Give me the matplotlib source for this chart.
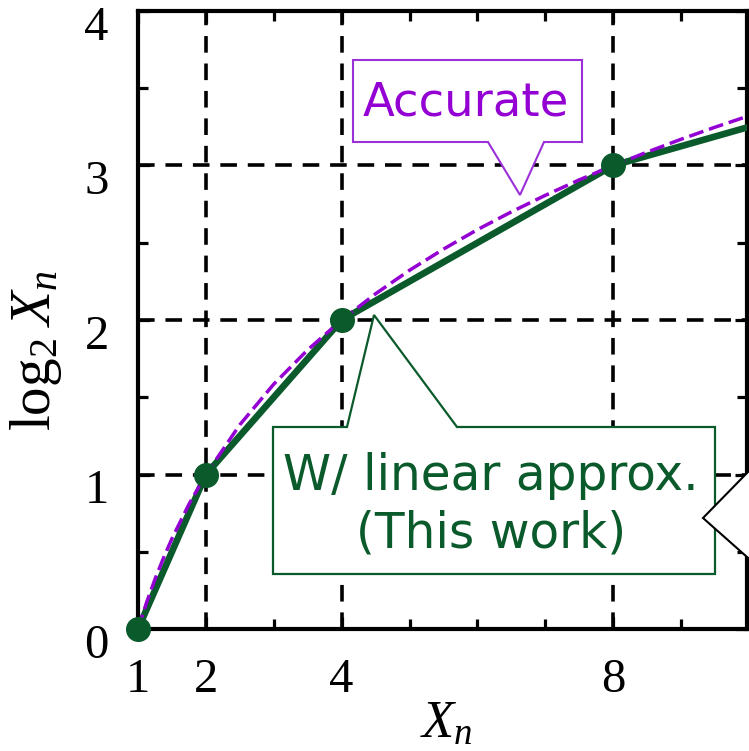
import matplotlib
matplotlib.use("Agg")
import matplotlib.pyplot as plt
from matplotlib.patches import Polygon
from matplotlib.ticker import MultipleLocator
from matplotlib.transforms import ScaledTranslation

# ---------------- data ----------------
acc_x = [1, 1.125, 1.25, 1.375, 1.5, 1.75, 2, 2.5, 3, 3.5, 4, 4.5, 5, 5.5, 6, 6.5, 7, 7.5, 8, 8.5, 9, 9.5, 10]
acc_y = [0.0, 0.170, 0.322, 0.459, 0.585, 0.807, 1.0, 1.322, 1.585, 1.807, 2.0, 2.170, 2.322, 2.459,
         2.585, 2.700, 2.807, 2.907, 3.0, 3.087, 3.170, 3.248, 3.322]
lin_x = [1, 2, 4, 8, 10]
lin_y = [0, 1, 2, 3, 3.25]
pt_x = [1, 2, 4, 8]
pt_y = [0, 1, 2, 3]
xticks = [1, 2, 4, 8]
yticks = [0, 1, 2, 3, 4]
label_acc = "Accurate"
label_lin1 = "W/ linear approx."
label_lin2 = "(This work)"

GREEN = "#0a5a2b"
PURPLE = "#9400d3"

plt.rcParams["font.family"] = ["Liberation Serif", "DejaVu Serif"]
plt.rcParams["mathtext.fontset"] = "custom"
plt.rcParams["mathtext.rm"] = "Liberation Serif"
plt.rcParams["mathtext.it"] = "Liberation Serif:italic"

W, H = 749, 751
fig = plt.figure(figsize=(W / 100, H / 100), dpi=100)
L, R, T, B = 138, 747, 11, 629
ax = fig.add_axes([L / W, 1 - B / H, (R - L) / W, (B - T) / H])

ax.plot(lin_x, lin_y, color=GREEN, lw=4.8, zorder=3, solid_capstyle="butt")
ax.plot(acc_x, acc_y, color=PURPLE, lw=2.5, linestyle=(0, (4.3, 1.7)), zorder=4)
ax.plot(pt_x, pt_y, "o", color=GREEN, ms=17, zorder=5, clip_on=False)

ax.set_xlim(1, 9.97)
ax.set_ylim(0, 4)
ax.set_xticks(xticks)
ax.set_yticks(yticks)
ax.xaxis.set_minor_locator(MultipleLocator(1))
ax.yaxis.set_minor_locator(MultipleLocator(0.5))
ax.tick_params(which="both", direction="in", top=True, right=True, width=2.3, color="k")
ax.tick_params(which="major", length=8.6, labelsize=35)
ax.tick_params(which="minor", length=7.5)
ax.tick_params(axis="x", which="major", pad=21)
ax.tick_params(axis="y", which="major", pad=21)
for s in ax.spines.values():
    s.set_linewidth(3)
ax.grid(True, which="major", color="k", lw=2.6, linestyle=(0, (4.6, 3.0)), zorder=1)
ax.set_axisbelow(True)

# axis labels
fig.text(446 / W, 1 - 738 / H, r"$X_n$", fontsize=38, ha="center", va="baseline")
fig.text(36 / W, 1 - 350 / H, r"$\mathrm{log}_2\;X_n$", fontsize=41, ha="center", va="center",
         rotation=90)


def fp(pts):
    return [(x / W, 1 - y / H) for x, y in pts]


# callout: Accurate
acc_box = [(353, 60), (582, 60), (582, 142), (544, 142), (520, 195), (488, 142), (353, 142)]
fig.patches.append(Polygon(fp(acc_box), closed=True, facecolor="white", edgecolor="#9b30d9",
                           lw=1.5, transform=fig.transFigure, zorder=6))
fig.text(466 / W, 1 - 115 / H, label_acc, color=PURPLE, fontsize=33.5, family="DejaVu Sans",
         ha="center", va="baseline", zorder=7)

# callout: linear approx
lin_box = [(273, 427), (347, 427), (374, 315), (457, 427), (715, 427), (715, 574), (273, 574)]
fig.patches.append(Polygon(fp(lin_box), closed=True, facecolor="white", edgecolor=GREEN,
                           lw=1.6, transform=fig.transFigure, zorder=6))
fig.text(491 / W, 1 - 490 / H, label_lin1, color=GREEN, fontsize=35, family="DejaVu Sans",
         ha="center", va="baseline", zorder=7)
fig.text(491 / W, 1 - 547 / H, label_lin2, color=GREEN, fontsize=35, family="DejaVu Sans",
         ha="center", va="baseline", zorder=7)

# partial callout at right edge
edge_box = [(760, 459.7), (703, 518), (760, 568.5)]
fig.patches.append(Polygon(fp(edge_box), closed=False, facecolor="white", edgecolor="k",
                           lw=1.5, transform=fig.transFigure, zorder=6, clip_on=False))

fig.canvas.draw()
off = ScaledTranslation(0, -12 / 100, fig.dpi_scale_trans)
for lbl in ax.get_yticklabels():
    lbl.set_transform(lbl.get_transform() + off)

fig.savefig("out.png", dpi=100)
